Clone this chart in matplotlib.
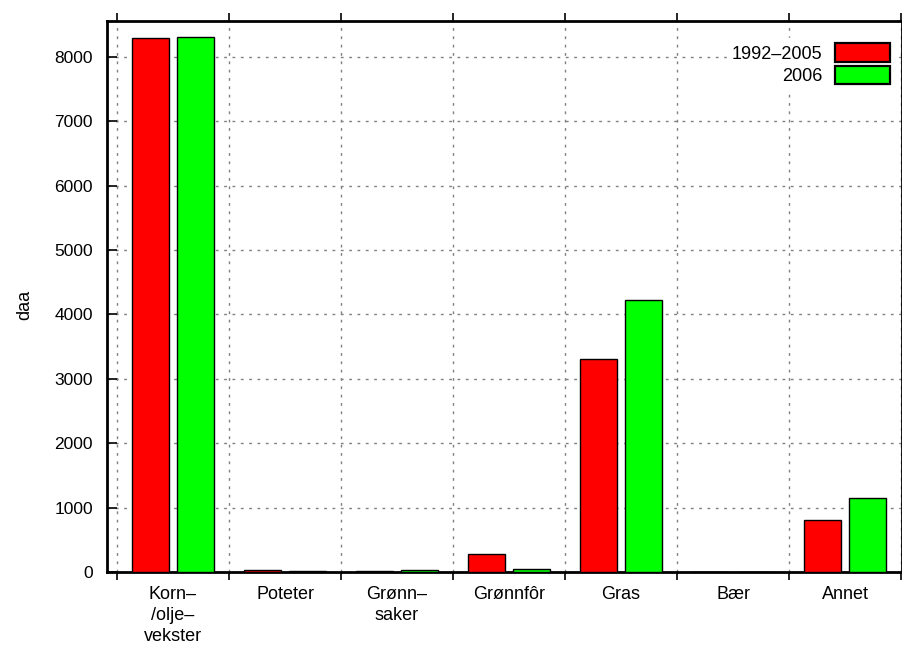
import numpy as np
import matplotlib
matplotlib.use("Agg")
import matplotlib.pyplot as plt

plt.rcParams['font.family'] = ['Liberation Sans', 'DejaVu Sans']

# areal per vekstgruppe (daa)
kategorier = ["Korn–\n/olje–\nvekster", "Poteter", "Grønn–\nsaker", "Grønnfôr", "Gras", "Bær", "Annet"]
serie_navn = ["1992–2005", "2006"]
periode_1992_2005 = [8286, 25, 20, 285, 3310, 0, 805]
aar_2006 = [8308, 20, 30, 45, 4218, 0, 1145]

x = np.arange(len(kategorier))
bredde = 0.33
avstand = 0.205

fig = plt.figure(figsize=(9.02, 6.48), dpi=100)
ax = fig.add_axes([107 / 902, 76 / 648, 795 / 902, 551.3 / 648])

ax.bar(x - avstand, periode_1992_2005, bredde, color="#ff0000", edgecolor="black",
       linewidth=1, label=serie_navn[0], zorder=3)
ax.bar(x + avstand, aar_2006, bredde, color="#00ff00", edgecolor="black",
       linewidth=1, label=serie_navn[1], zorder=3)

ax.set_xlim(-0.5 - 10 / 112, 6.5 + 1 / 112)
ax.set_ylim(0, 8560)

# skillelinjer mellom gruppene som hovedmerker, navn som hjelpemerker
ax.set_xticks(np.arange(len(kategorier) + 1) - 0.5)
ax.set_xticklabels([])
ax.set_xticks(x, minor=True)
ax.set_xticklabels(kategorier, minor=True, fontsize=13, linespacing=1.3)
ax.tick_params(axis="x", which="major", direction="out", length=6, width=1.2, top=True)
ax.tick_params(axis="x", which="minor", length=0, pad=10)
ax.set_yticks(np.arange(0, 8001, 1000))
ax.tick_params(axis="y", direction="in", length=7, width=1.2, labelsize=12.5, pad=10)

ax.grid(True, which="major", color="#808080", linestyle=(0, (2, 4)), linewidth=1, zorder=0)

for s in ax.spines.values():
    s.set_linewidth(2)

fig.text(25 / 902, 1 - 305 / 648, "daa", rotation=90, ha="center", va="center", fontsize=13)

leg = fig.legend(loc="upper right", bbox_to_anchor=(895 / 902, 1 - 38 / 648),
                 bbox_transform=fig.transFigure,
                 markerfirst=False, fontsize=13, handlelength=3.05, handleheight=1.22,
                 labelspacing=0.15, handletextpad=0.66, borderaxespad=0, borderpad=0.3,
                 frameon=True, fancybox=False, framealpha=1, facecolor="white", edgecolor="white")
leg.set_zorder(5)
for h in leg.legend_handles:
    h.set_linewidth(1.6)

fig.savefig("out.png", dpi=100)
